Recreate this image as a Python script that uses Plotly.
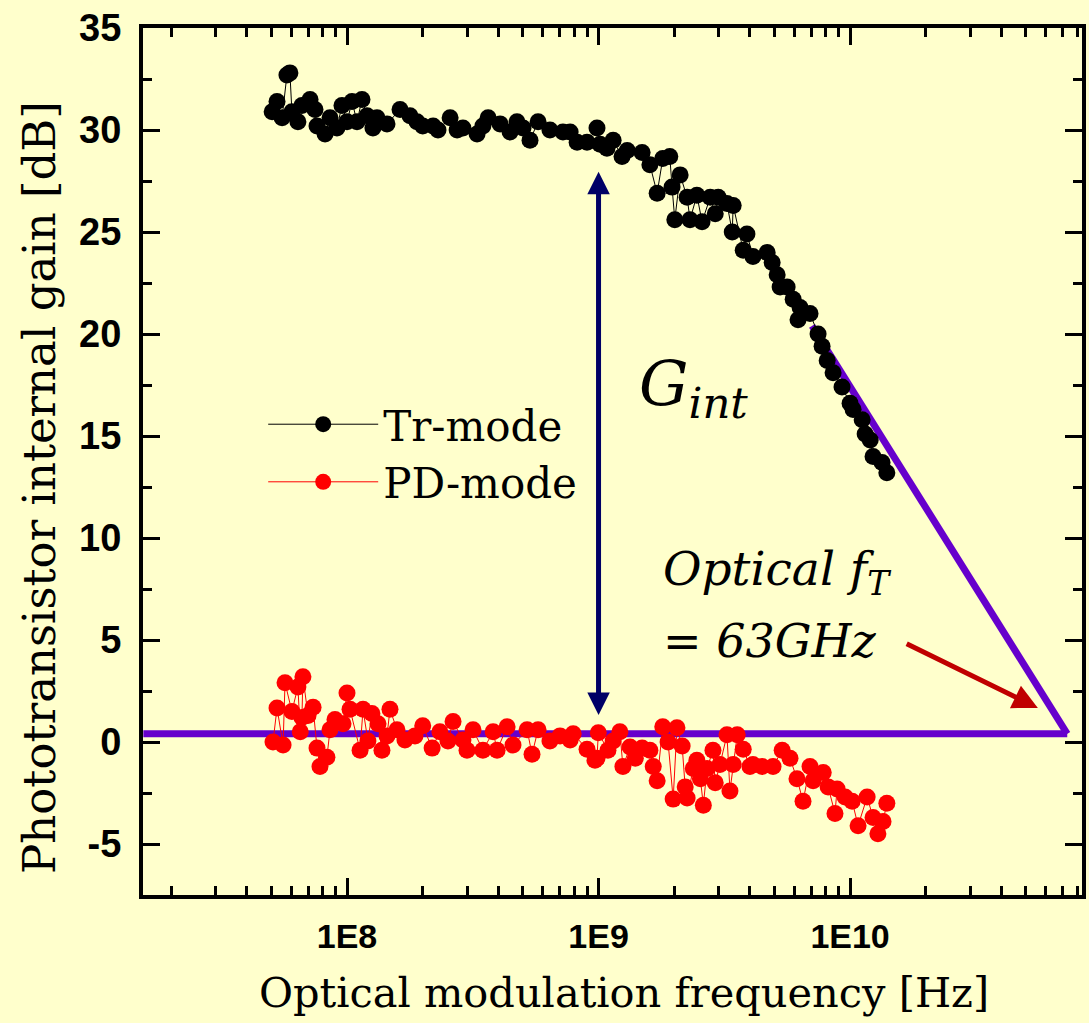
import math
import plotly.graph_objects as go

# ---------------- data ----------------
tr_freq = [5.04e7, 5.27e7, 5.52e7, 5.77e7, 5.93e7, 6.04e7, 6.38e7, 6.62e7, 7.13e7, 7.46e7,
           7.60e7, 8.18e7, 8.56e7, 9.12e7, 9.55e7, 1.0e8, 1.047e8, 1.096e8, 1.147e8, 1.201e8,
           1.268e8, 1.316e8, 1.442e8, 1.625e8, 1.78e8, 1.897e8, 2.00e8, 2.20e8, 2.30e8, 2.57e8,
           2.74e8, 2.89e8, 3.29e8, 3.47e8, 3.64e8, 4.06e8, 4.45e8, 4.74e8, 5.01e8, 5.34e8,
           5.75e8, 6.41e8, 7.22e8, 7.71e8, 8.22e8, 9.0e8, 9.86e8, 1.014e9, 1.08e9, 1.143e9,
           1.24e9, 1.30e9, 1.49e9, 1.60e9, 1.71e9, 1.80e9, 1.92e9, 1.96e9, 2.01e9, 2.11e9,
           2.25e9, 2.31e9, 2.46e9, 2.58e9, 2.78e9, 2.91e9, 2.99e9, 3.24e9, 3.40e9, 3.43e9,
           3.76e9, 3.89e9, 4.11e9, 4.68e9, 4.90e9, 5.13e9, 5.27e9, 5.62e9, 5.94e9, 6.21e9,
           6.33e9, 6.93e9, 7.46e9, 7.74e9, 8.11e9, 8.56e9, 9.29e9, 1.0e10, 1.028e10, 1.117e10,
           1.148e10, 1.202e10, 1.234e10, 1.34e10, 1.40e10]
tr_gain = [30.9, 31.4, 30.6, 32.7, 32.8, 30.9, 30.4, 31.2, 31.5, 31.0,
           30.2, 29.8, 30.6, 30.1, 31.2, 30.4, 31.4, 30.4, 31.5, 30.7,
           30.1, 30.6, 30.3, 31.0, 30.7, 30.4, 30.2, 30.2, 30.0, 30.6,
           30.0, 30.1, 29.8, 30.2, 30.6, 30.3, 29.9, 30.4, 30.1, 29.5,
           30.4, 30.0, 29.9, 29.9, 29.4, 29.4, 30.1, 29.3, 29.1, 29.5,
           28.7, 29.0, 28.9, 28.3, 26.9, 28.6, 28.7, 27.2, 25.6, 27.8,
           26.7, 25.6, 26.8, 25.5, 26.7, 25.9, 26.7, 26.4, 25.0, 26.3,
           24.1, 24.9, 23.8, 24.0, 23.5, 22.9, 22.3, 22.3, 21.7, 20.7,
           21.3, 21.0, 20.0, 19.4, 18.7, 18.1, 17.4, 16.6, 16.3, 15.8,
           15.1, 14.8, 14.0, 13.7, 13.2]

pd_freq = [5.08e7, 5.27e7, 5.57e7, 5.67e7, 6.04e7, 6.38e7, 6.52e7, 6.62e7, 6.68e7, 7.0e7,
           7.33e7, 7.60e7, 7.81e7, 8.32e7, 8.56e7, 8.96e7, 9.64e7, 1.0e8, 1.028e8, 1.127e8,
           1.158e8, 1.211e8, 1.256e8, 1.328e8, 1.377e8, 1.442e8, 1.482e8, 1.58e8, 1.70e8, 1.864e8,
           2.00e8, 2.18e8, 2.34e8, 2.52e8, 2.64e8, 2.89e8, 3.00e8, 3.17e8, 3.47e8, 3.81e8,
           3.95e8, 4.33e8, 4.57e8, 5.20e8, 5.44e8, 5.75e8, 6.41e8, 7.03e8, 7.71e8, 7.93e8,
           9.0e8, 9.68e8, 9.86e8, 9.98e8, 1.09e9, 1.143e9, 1.216e9, 1.25e9, 1.334e9, 1.40e9,
           1.49e9, 1.60e9, 1.65e9, 1.71e9, 1.80e9, 1.89e9, 1.98e9, 2.05e9, 2.15e9, 2.21e9,
           2.25e9, 2.38e9, 2.46e9, 2.54e9, 2.61e9, 2.70e9, 2.85e9, 2.91e9, 3.04e9, 3.24e9,
           3.33e9, 3.43e9, 3.56e9, 3.76e9, 4.00e9, 4.11e9, 4.47e9, 4.94e9, 5.37e9, 5.77e9,
           6.15e9, 6.50e9, 6.93e9, 7.13e9, 7.82e9, 8.18e9, 8.71e9, 8.88e9, 9.55e9, 1.019e10,
           1.076e10, 1.169e10, 1.234e10, 1.29e10, 1.352e10, 1.40e10]
pd_gain = [0.0, 1.67, -0.15, 2.9, 1.5, 2.7, 0.5, 1.2, 3.2, 1.3,
           1.7, -0.3, -1.2, -0.75, 0.6, 1.1, 0.9, 2.4, 1.6, -0.4,
           1.6, 0.05, 1.4, 0.9, -0.4, 0.3, 1.6, 0.6, 0.1, 0.3,
           0.8, -0.3, 0.5, 0.05, 1.0, 0.1, -0.4, 0.6, -0.4, 0.5,
           -0.4, 0.75, -0.15, 0.6, -0.6, 0.6, 0.05, 0.3, 0.1, 0.4,
           -0.35, -0.9, -0.8, 0.45, -0.4, 0.05, 0.5, -1.2, -0.25, -0.8,
           -0.3, -0.4, -1.2, -1.9, 0.75, 0.0, -2.8, 0.7, -0.2, -2.2,
           -2.75, -1.3, -0.9, -1.8, -3.1, -1.3, -0.4, -2.0, -1.1, 0.35,
           -2.4, -1.1, 0.35, -0.35, -1.2, -1.1, -1.2, -1.2, -0.4, -0.8,
           -1.8, -2.9, -1.2, -1.9, -1.5, -2.2, -3.5, -2.3, -2.7, -2.9,
           -4.1, -2.7, -3.7, -4.5, -3.9, -3.0]

# guide lines (fT construction): flat PD level and -20 dB/dec roll-off
flat_freq = [1.55e7, 7.3e10]
flat_gain = [0.4, 0.4]
slope_freq = [7.06e9, 7.3e10]
slope_gain = [20.4, 0.4]

# double arrow (G_int) and red pointer
gint_freq = 1e9
gint_top, gint_bottom = 27.95, 1.25
ptr_tail = (1.656e10, 4.85)
ptr_head = (5.58e10, 1.67)

x_tickvals = [1e8, 1e9, 1e10]
x_ticktext = ["1E8", "1E9", "1E10"]
x_minor = [m * 10 ** e for e in range(7, 11) for m in range(2, 10) if 1.55e7 < m * 10 ** e < 8.3e10]
y_tickvals = [-5, 0, 5, 10, 15, 20, 25, 30, 35]
y_ticktext = ["-5", "0", "5", "10", "15", "20", "25", "30", "35"]
y_minor = [-7.5, -2.5, 2.5, 7.5, 12.5, 17.5, 22.5, 27.5, 32.5]

x_title = "Optical modulation frequency [Hz]"
y_title = "Phototransistor internal gain [dB]"

x_range_log = [7.189, 10.922]
y_range = [-7.5, 35]

BG = "#FFFFCC"
SERIF = "DejaVu Serif"
SANS = "Liberation Sans"

fig = go.Figure()

fig.add_trace(go.Scatter(
    x=flat_freq, y=flat_gain, mode="lines", showlegend=False,
    line=dict(color="#6600CC", width=7), hoverinfo="skip"))
fig.add_trace(go.Scatter(
    x=slope_freq, y=slope_gain, mode="lines", showlegend=False,
    line=dict(color="#6600CC", width=7), hoverinfo="skip"))

fig.add_trace(go.Scatter(
    x=tr_freq, y=tr_gain, mode="lines+markers", name="Tr-mode",
    line=dict(color="black", width=1),
    marker=dict(color="black", size=17, symbol="circle")))
fig.add_trace(go.Scatter(
    x=pd_freq, y=pd_gain, mode="lines+markers", name="PD-mode",
    line=dict(color="#FF0000", width=1),
    marker=dict(color="#FF0000", size=17, symbol="circle")))

fig.add_annotation(
    x=math.log10(gint_freq), y=gint_top, ax=math.log10(gint_freq), ay=gint_bottom,
    xref="x", yref="y", axref="x", ayref="y", text="", showarrow=True,
    arrowhead=2, startarrowhead=2, arrowside="end+start", arrowwidth=5,
    arrowsize=0.9, startarrowsize=0.9, arrowcolor="#000066")
fig.add_annotation(
    x=math.log10(ptr_head[0]), y=ptr_head[1], ax=math.log10(ptr_tail[0]), ay=ptr_tail[1],
    xref="x", yref="y", axref="x", ayref="y", text="", showarrow=True,
    arrowhead=2, arrowwidth=5, arrowsize=1, arrowcolor="#C00000")

fig.add_annotation(
    x=0.526, y=0.585, xref="paper", yref="paper", xanchor="left", yanchor="middle",
    text="<i>G<sub>int</sub></i>", showarrow=False,
    font=dict(family=SERIF, size=62, color="black"))
fig.add_annotation(
    x=0.552, y=0.372, xref="paper", yref="paper", xanchor="left", yanchor="middle",
    text="<i>Optical f<sub>T</sub></i>", showarrow=False,
    font=dict(family=SERIF, size=47, color="black"))
fig.add_annotation(
    x=0.552, y=0.293, xref="paper", yref="paper", xanchor="left", yanchor="middle",
    text="<i>= 63GHz</i>", showarrow=False,
    font=dict(family=SERIF, size=46, color="black"))

# axis titles
fig.add_annotation(
    x=0.5122, y=-0.113, xref="paper", yref="paper", xanchor="center", yanchor="middle",
    text=x_title, showarrow=False,
    font=dict(family=SERIF, size=41.5, color="black"))
fig.add_annotation(
    x=-0.1097, y=0.4706, xref="paper", yref="paper", xanchor="center", yanchor="middle",
    text=y_title, showarrow=False, textangle=-90,
    font=dict(family=SERIF, size=45, color="black"))

fig.update_layout(
    width=1089, height=1023,
    margin=dict(l=143, r=7, t=28, b=128, autoexpand=False),
    paper_bgcolor=BG, plot_bgcolor=BG,
    showlegend=True,
    legend=dict(x=0.128, y=0.582, xanchor="left", yanchor="top",
                bgcolor="rgba(0,0,0,0)", font=dict(family=SERIF, size=42, color="black"),
                tracegroupgap=0, itemwidth=110),
    xaxis=dict(
        type="log", range=x_range_log, showgrid=False, zeroline=False,
        showline=True, linecolor="black", linewidth=4, mirror="ticks",
        ticks="inside", ticklen=17, tickwidth=3, tickcolor="black",
        tickmode="array", tickvals=x_tickvals, ticktext=x_ticktext,
        tickfont=dict(family=SANS, size=34, color="black", weight="bold"),
        ticklabelstandoff=8,
        minor=dict(tickmode="array", tickvals=x_minor, ticks="inside",
                   ticklen=9, tickwidth=3, tickcolor="black", showgrid=False),
    ),
    yaxis=dict(
        range=y_range, showgrid=False, zeroline=False,
        showline=True, linecolor="black", linewidth=4, mirror="ticks",
        ticks="inside", ticklen=17, tickwidth=3, tickcolor="black",
        tickmode="array", tickvals=y_tickvals, ticktext=y_ticktext,
        tickfont=dict(family=SANS, size=38, color="black", weight="bold"),
        ticklabelstandoff=10,
        minor=dict(tickmode="array", tickvals=y_minor, ticks="inside",
                   ticklen=9, tickwidth=3, tickcolor="black", showgrid=False),
    ),
)

fig.write_html("out.html")
